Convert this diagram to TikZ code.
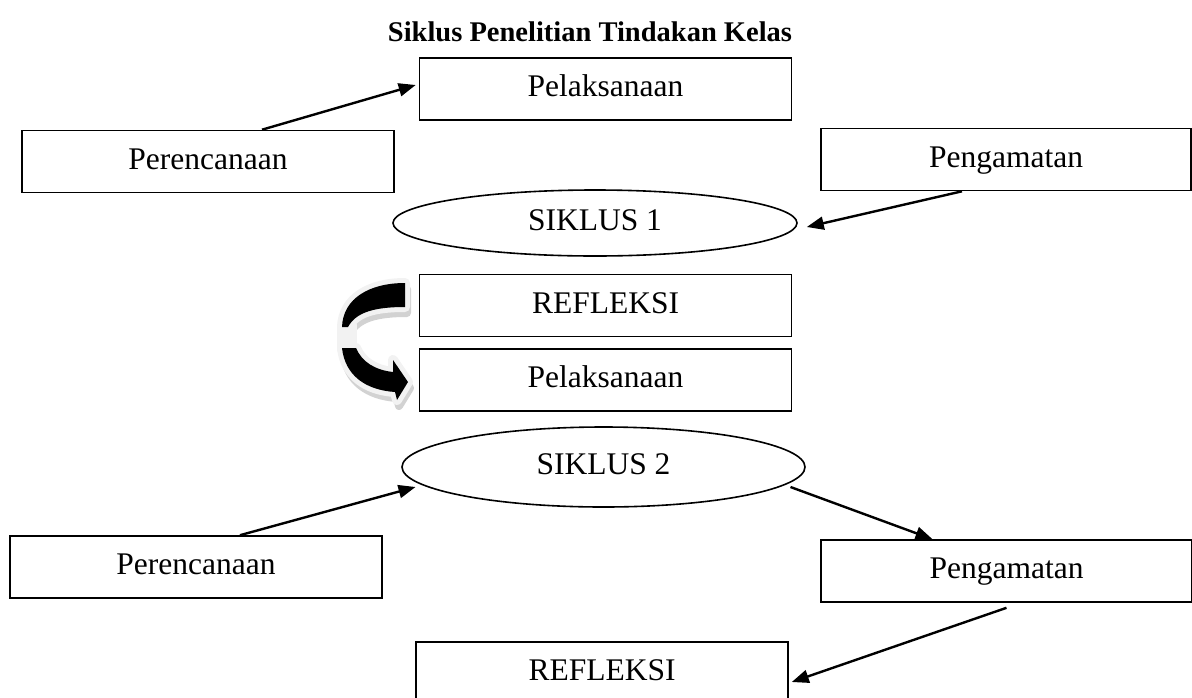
\documentclass[tikz,border=0pt]{standalone}
\usepackage{fontspec}
\setmainfont{Liberation Serif}
\usetikzlibrary{arrows.meta,shapes.geometric,calc}
\begin{document}
\begin{tikzpicture}[x=1pt,y=-1pt,
  every node/.style={font=\fontsize{31.5}{36}\selectfont},
  boxnode/.style={draw,line width=1.6pt,rectangle,minimum width=372pt,minimum height=62pt,inner sep=0pt,text height=21pt,text depth=6pt},
  ellnode/.style={draw,line width=1.6pt,ellipse,inner sep=0pt,text height=21pt,text depth=6pt},
  conn/.style={line width=2.4pt,-{Triangle[length=17pt,width=13pt]}},
  blackband/.style={fill=black},
  bandframe/.style={draw=gray!10,fill=gray!10,line width=10pt,line join=round},
  bandshadow/.style={draw=gray!35,fill=gray!35,line width=8pt,line join=round}]
\useasboundingbox (0,0) rectangle (1192,697);
% title
\node[font=\fontsize{28.5}{34}\selectfont\bfseries] (title) at (590,32) {Siklus Penelitian Tindakan Kelas};
% siklus 1
\node[boxnode] (pel1) at (605.5,89) {Pelaksanaan};
\node[boxnode] (per1) at (208,161.5) {Perencanaan};
\node[boxnode,minimum width=370pt] (peng1) at (1006,159.5) {Pengamatan};
\node[ellnode,minimum width=404pt,minimum height=66pt] (s1) at (595,223) {SIKLUS 1};
\node[boxnode] (ref1) at (605.5,305.5) {REFLEKSI};
% siklus 2
\node[boxnode] (pel2) at (605.5,380) {Pelaksanaan};
\node[ellnode,minimum width=403pt,minimum height=80pt] (s2) at (603.5,467) {SIKLUS 2};
\node[boxnode] (per2) at (196,567) {Perencanaan};
\node[boxnode,minimum width=371pt] (peng2) at (1006.5,571) {Pengamatan};
\node[boxnode] (ref2) at (602,673) {REFLEKSI};
% connectors
\draw[conn] ([xshift=54pt]per1.north) -- ([xshift=-3pt,yshift=4pt]pel1.west);
\draw[conn] ([xshift=-44pt]peng1.south) -- ($(s1.east)+(9,4)$);
\draw[conn] ([xshift=44pt]per2.north) -- ($(s2.center)+(-188,20)$);
\draw[conn] ($(s2.center)+(187,20)$) -- ([xshift=-74pt]peng2.north);
\draw[conn] ([yshift=-5pt]peng2.south) -- ([xshift=3pt,yshift=-9pt]ref2.east);
% curved arrow (decorative)
\def\topband{(405,283) -- (405,307) .. controls (375,307) and (356,312) .. (348,327)
   -- (342,327) .. controls (343,298) and (370,283) .. (405,283) -- cycle}
\def\lowband{(342,348) -- (356,348) .. controls (362,362) and (375,370) .. (393,372)
   -- (393,360) -- (408,382) -- (397,400) -- (395,392)
   .. controls (365,390) and (345,375) .. (342,348) -- cycle}
\begin{scope}[shift={(2,6)}]
\path[bandshadow] \topband;
\path[bandshadow] \lowband;
\path[bandshadow] (342,325) rectangle (350,350);
\end{scope}
\path[bandframe] \topband;
\path[bandframe] \lowband;
\path[bandframe] (342,325) rectangle (352,350);
\path[blackband] \topband;
\path[blackband] \lowband;
\end{tikzpicture}
\end{document}
